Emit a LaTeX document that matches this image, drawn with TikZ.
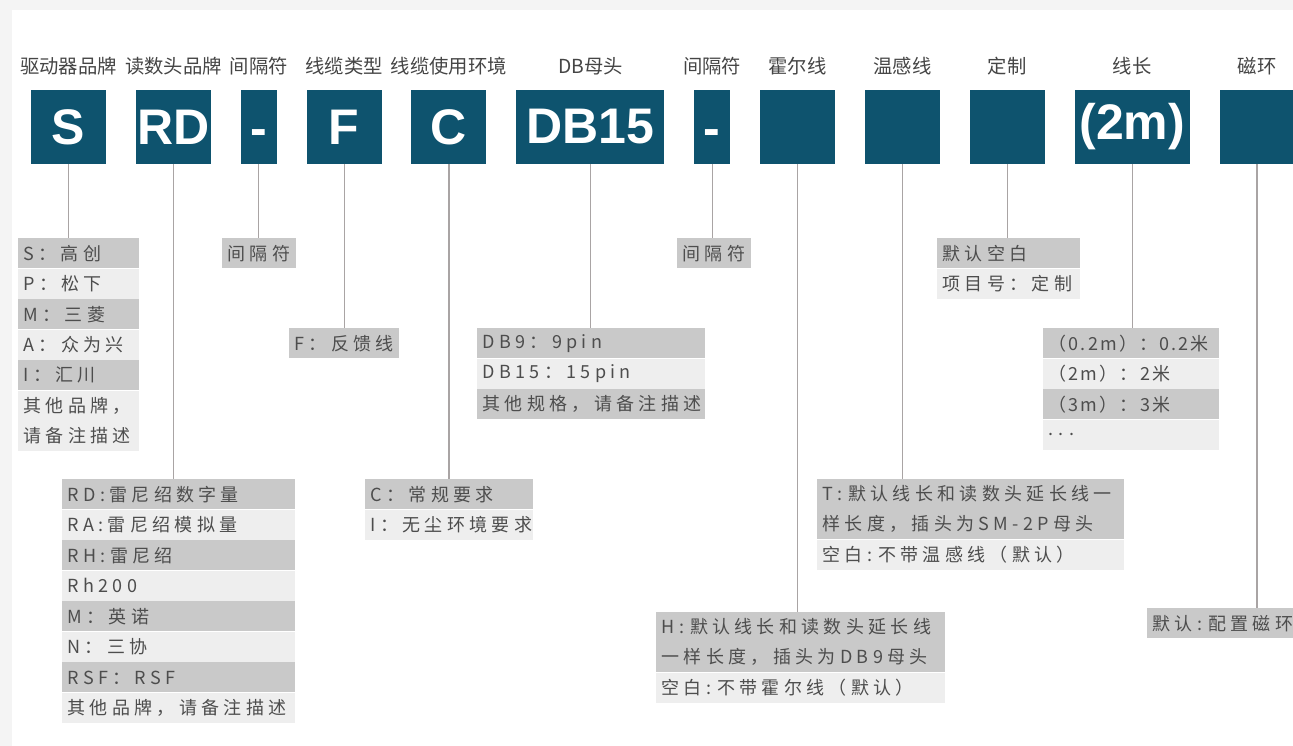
\documentclass[tikz,border=0pt]{standalone}
\usepackage{fontspec}
\usepackage{xcolor}
\usetikzlibrary{positioning}
\newfontfamily\cjkfont{Noto Sans CJK SC}
\newfontfamily\cjkspaced[LetterSpace=24]{Noto Sans CJK SC}
\newfontfamily\cjktight[LetterSpace=12]{Noto Sans CJK SC}
\newfontfamily\codefont{Liberation Sans}
\definecolor{codeblue}{HTML}{0E536E}
\definecolor{celldark}{HTML}{C9C9C9}
\definecolor{celllight}{HTML}{EEEEEE}
\definecolor{celltext}{HTML}{4D4D4D}
\definecolor{hdrtext}{HTML}{454545}
\definecolor{leadgray}{HTML}{A9A4A4}
\definecolor{framegray}{HTML}{F4F4F4}
\tikzset{
  code/.style={rectangle, fill=codeblue, text=white,
    font={\codefont\bfseries\fontsize{37.5}{40}\selectfont},
    minimum width=56.25pt, minimum height=55pt, inner sep=0pt},
  codenarrow/.style={code, minimum width=27pt, text height=27pt, text depth=0pt},
  hdr/.style={font={\cjkfont\fontsize{14.5}{16}\selectfont}, text=hdrtext, inner sep=0pt},
  cell/.style={rectangle, text=celltext, font={\cjkspaced\fontsize{13.5}{22.5}\selectfont},
    align=left, inner xsep=4pt, inner ysep=0pt, minimum height=22.5pt},
  dcell/.style={cell, fill=celldark},
  lcell/.style={cell, fill=celllight},
  dtcell/.style={dcell, font={\cjktight\fontsize{13.5}{22.5}\selectfont}},
  ltcell/.style={lcell, font={\cjktight\fontsize{13.5}{22.5}\selectfont}},
  lead/.style={draw=leadgray, line width=0.9pt},
}

\begin{document}
\begin{tikzpicture}[x=0.75pt, y=-0.75pt]
\useasboundingbox (0,0) rectangle (1293,746);
% ---- panel ----
\fill[framegray] (0,0) rectangle (1293,746);
\fill[white] (12,10) rectangle (1293,746);
% ---- code boxes ----
\node[code] (bS) at (68.5,127) {S};
\node[code, right=22pt of bS] (bRD) {RD};
\node[codenarrow, right=22pt of bRD] (bSepA) {-};
\node[code, right=22pt of bSepA] (bF) {F};
\node[code, right=22pt of bF] (bC) {C};
\node[code, minimum width=111pt, right=22pt of bC] (bDB) {DB15};
\node[codenarrow, right=22pt of bDB] (bSepB) {-};
\node[code, right=22pt of bSepB] (bHall) {};
\node[code, right=22pt of bHall] (bTemp) {};
\node[code, right=22pt of bTemp] (bCust) {};
\node[code, minimum width=86.25pt, right=22pt of bCust] (bLen) {(2m)};
\node[code, right=22pt of bLen] (bMag) {};
% ---- headers ----
\node[hdr] (hS)    at ([yshift=18pt]bS.north)    {驱动器品牌};
\node[hdr] (hRD)   at ([yshift=18pt]bRD.north)   {读数头品牌};
\node[hdr] (hSepA) at ([yshift=18pt]bSepA.north) {间隔符};
\node[hdr] (hF)    at ([yshift=18pt]bF.north)    {线缆类型};
\node[hdr] (hC)    at ([yshift=18pt]bC.north)    {线缆使用环境};
\node[hdr] (hDB)   at ([yshift=18pt]bDB.north)   {DB母头};
\node[hdr] (hSepB) at ([yshift=18pt]bSepB.north) {间隔符};
\node[hdr] (hHall) at ([yshift=18pt]bHall.north) {霍尔线};
\node[hdr] (hTemp) at ([yshift=18pt]bTemp.north) {温感线};
\node[hdr] (hCust) at ([yshift=18pt]bCust.north) {定制};
\node[hdr] (hLen)  at ([yshift=18pt]bLen.north)  {线长};
\node[hdr] (hMag)  at ([yshift=18pt]bMag.north)  {磁环};
% ---- driver brand ----
\begin{scope}[every node/.append style={text width=82.75pt}]
\node[dcell, anchor=north west] (tS1) at (18,238) {S：高创};
\node[lcell, below=0pt of tS1] (tS2) {P：松下};
\node[dcell, below=0pt of tS2] (tS3) {M：三菱};
\node[lcell, below=0pt of tS3] (tS4) {A：众为兴};
\node[dcell, below=0pt of tS4] (tS5) {I：汇川};
\node[lcell, minimum height=45pt, below=0pt of tS5] (tS6) {其他品牌，\\请备注描述};
\end{scope}
% ---- separators and cable type ----
\node[dcell, text width=47.5pt, anchor=north west] (tSepA) at (222,238) {间隔符};
\node[dcell, text width=74.5pt, anchor=north west] (tF) at (289,328) {F：反馈线};
\node[dcell, text width=47.5pt, anchor=north west] (tSepB) at (677,238) {间隔符};
% ---- read head brand ----
\begin{scope}[every node/.append style={text width=166.75pt}]
\node[dcell, anchor=north west] (tRD1) at (62,479) {RD:雷尼绍数字量};
\node[lcell, below=0pt of tRD1] (tRD2) {RA:雷尼绍模拟量};
\node[dcell, below=0pt of tRD2] (tRD3) {RH:雷尼绍};
\node[lcell, below=0pt of tRD3] (tRD4) {Rh200};
\node[dcell, below=0pt of tRD4] (tRD5) {M：英诺};
\node[lcell, below=0pt of tRD5] (tRD6) {N：三协};
\node[dcell, below=0pt of tRD6] (tRD7) {RSF：RSF};
\node[lcell, below=0pt of tRD7] (tRD8) {其他品牌，请备注描述};
\end{scope}
% ---- environment ----
\begin{scope}[every node/.append style={text width=118pt}]
\node[dcell, anchor=north west] (tC1) at (365,479) {C：常规要求};
\node[lcell, below=0pt of tC1] (tC2) {I：无尘环境要求};
\end{scope}
% ---- DB connector ----
\begin{scope}[every node/.append style={text width=163pt}]
\node[dcell, anchor=north west] (tDB1) at (477,328) {DB9：9pin};
\node[lcell, below=0pt of tDB1] (tDB2) {DB15：15pin};
\node[dcell, below=0pt of tDB2] (tDB3) {其他规格，请备注描述};
\end{scope}
% ---- hall / temperature ----
\begin{scope}[every node/.append style={text width=208.75pt}]
\node[dcell, minimum height=45pt, anchor=north west] (tH1) at (656,612)
  {H:~默认线长和读数头延长线\\一样长度，插头为DB9母头};
\node[lcell, below=0pt of tH1] (tH2) {空白:~不带霍尔线（默认）};
\end{scope}
\begin{scope}[every node/.append style={text width=222.25pt}]
\node[dcell, minimum height=45pt, anchor=north west] (tT1) at (817,479)
  {T:~默认线长和读数头延长线一\\样长度，插头为SM-2P母头};
\node[lcell, below=0pt of tT1] (tT2) {空白:~不带温感线（默认）};
\end{scope}
% ---- custom / length / ring ----
\begin{scope}[every node/.append style={text width=99.25pt}]
\node[dcell, anchor=north west] (tCust1) at (937,238) {默认空白};
\node[lcell, below=0pt of tCust1] (tCust2) {项目号：定制};
\end{scope}
\begin{scope}[every node/.append style={text width=124pt}]
\node[dtcell, anchor=north west] (tLen1) at (1043,328) {（0.2m）：0.2米};
\node[ltcell, below=0pt of tLen1] (tLen2) {（2m）：2米};
\node[dtcell, below=0pt of tLen2] (tLen3) {（3m）：3米};
\node[ltcell, below=0pt of tLen3] (tLen4) {.\hspace{4pt}.\hspace{4pt}.};
\end{scope}
\node[dcell, text width=120pt, anchor=north west] (tMag) at (1147,608) {默认:~配置磁环};
% ---- leads ----
\draw[lead] (bS.south)    -- (bS.south |- tS1.north);
\draw[lead] (bRD.south)   -- (bRD.south |- tRD1.north);
\draw[lead] (bSepA.south) -- (bSepA.south |- tSepA.north);
\draw[lead] (bF.south)    -- (bF.south |- tF.north);
\draw[lead] (bC.south)    -- (bC.south |- tC1.north);
\draw[lead] (bDB.south)   -- (bDB.south |- tDB1.north);
\draw[lead] (bSepB.south) -- (bSepB.south |- tSepB.north);
\draw[lead] (bHall.south) -- (bHall.south |- tH1.north);
\draw[lead] (bTemp.south) -- (bTemp.south |- tT1.north);
\draw[lead] (bCust.south) -- (bCust.south |- tCust1.north);
\draw[lead] (bLen.south)  -- (bLen.south |- tLen1.north);
\draw[lead] (bMag.south)  -- (bMag.south |- tMag.north);
\end{tikzpicture}
\end{document}
